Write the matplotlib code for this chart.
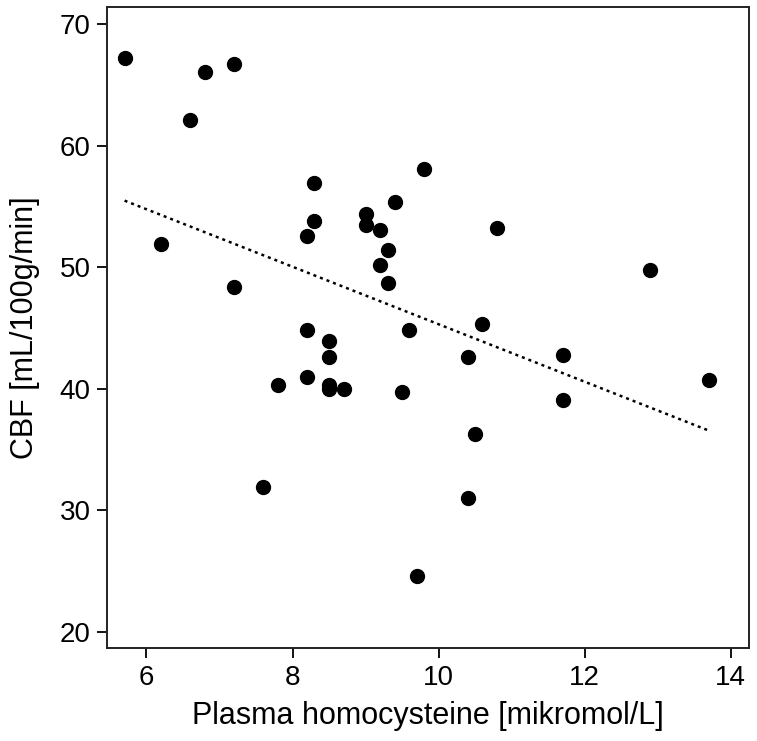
import numpy as np
import matplotlib
matplotlib.use('Agg')
import matplotlib.pyplot as plt

## Data
homocysteine = [5.7, 6.8, 7.2, 6.6, 6.2, 7.2, 8.3, 9.8, 9.4, 9.0,
                9.0, 8.3, 8.2, 9.2, 9.3, 9.2, 9.3, 10.8, 12.9, 8.2,
                8.5, 8.5, 8.2, 7.8, 8.5, 8.5, 8.7, 9.5, 9.6, 7.6,
                9.7, 10.6, 10.4, 11.7, 13.7, 11.7, 10.5, 10.4]
cbf = [67.2, 66.1, 66.7, 62.1, 51.9, 48.4, 56.9, 58.1, 55.4, 54.4,
       53.5, 53.8, 52.6, 53.1, 51.4, 50.2, 48.7, 53.2, 49.8, 44.8,
       43.9, 42.6, 41.0, 40.3, 40.3, 40.0, 40.0, 39.7, 44.8, 31.9,
       24.6, 45.3, 42.6, 42.8, 40.7, 39.1, 36.3, 31.0]
x_ticks = [6, 8, 10, 12, 14]
y_ticks = [20, 30, 40, 50, 60, 70]

plt.rcParams['font.family'] = ['Liberation Sans', 'DejaVu Sans']

fig = plt.figure(figsize=(7.57, 7.41), dpi=100)
ax = fig.add_axes([0.142, 0.1255, 0.8475, 0.8644])

ax.scatter(homocysteine, cbf, s=100, color='black', zorder=3)

# linear fit line
x = np.array(homocysteine)
slope, intercept = np.polyfit(x, np.array(cbf), 1)
xl = np.array([x.min(), x.max()])
ax.plot(xl, intercept + slope * xl, color='black', lw=1.8,
        linestyle=(0, (1.2, 1.6)))

ax.set_xlim(5.466, 14.25)
ax.set_ylim(18.66, 71.38)
ax.set_xticks(x_ticks)
ax.set_yticks(y_ticks)
ax.tick_params(direction='out', length=7.2, width=1.3, labelsize=20, pad=5)
for sp in ax.spines.values():
    sp.set_linewidth(1.4)
    sp.set_color('#222222')

ax.set_xlabel('Plasma homocysteine [mikromol/L]', fontsize=22, labelpad=7)
ax.set_ylabel('CBF [mL/100g/min]', fontsize=22, labelpad=14)

fig.savefig('out.png', dpi=100)
